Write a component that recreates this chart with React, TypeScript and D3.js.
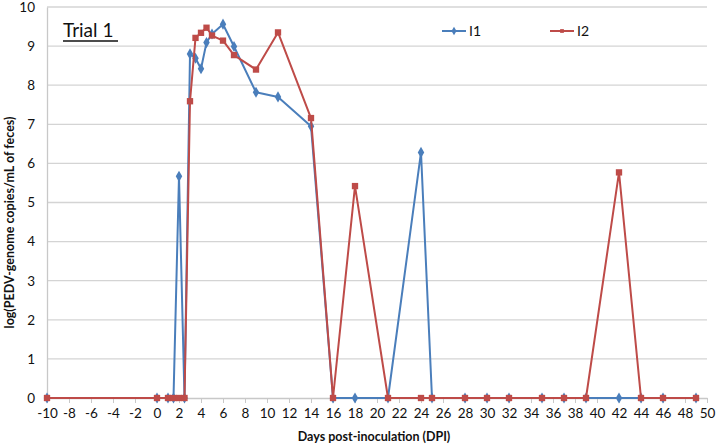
import { useEffect, useRef } from 'react';
import * as d3 from 'd3';

// sampling days (DPI)
const days = [-10, 0, 1, 1.5, 2, 2.5, 3, 3.5, 4, 4.5, 5, 6, 7, 9, 11, 14, 16, 18, 21, 24, 25, 28, 30, 32, 35, 37, 39, 42, 44, 46, 49];

// log copies per sample, same order as days
const i1Values = [0, 0, 0, 0, 5.67, 0, 8.8, 8.69, 8.42, 9.09, 9.31, 9.56, 8.99, 7.82, 7.7, 6.95, 0, 0, 0, 6.28, 0, 0, 0, 0, 0, 0, 0, 0, 0, 0, 0];
const i2Values = [0, 0, 0, 0, 0, 0, 7.59, 9.21, 9.34, 9.47, 9.27, 9.14, 8.77, 8.4, 9.35, 7.16, 0, 5.42, 0, 0, 0, 0, 0, 0, 0, 0, 0, 5.77, 0, 0, 0];

const xTicks = d3.range(-10, 51, 2);
const yTicks = d3.range(0, 11, 1);

const seriesNames = ['I1', 'I2'];
const colors = ['#4a7ebb', '#be4b48'];

export default function App() {
  const ref = useRef(null);

  useEffect(() => {
    const svg = d3.select(ref.current);
    svg.selectAll('*').remove();

    const left = 47, right = 707, top = 7, bottom = 398;

    const x = d3.scaleLinear().domain([-10, 50]).range([left, right]);
    const y = d3.scaleLinear().domain([0, 10]).range([bottom, top]);

    const font = 'Lato, Open Sans, sans-serif';

    // gridlines
    svg.append('g')
      .selectAll('line')
      .data(yTicks.filter(d => d > 0))
      .enter().append('line')
      .attr('x1', left)
      .attr('x2', right)
      .attr('y1', d => y(d))
      .attr('y2', d => y(d))
      .attr('stroke', '#d4d4d4')
      .attr('stroke-width', 1.3);

    // y axis
    const yAxis = svg.append('g')
      .attr('transform', `translate(${left},0)`)
      .call(d3.axisLeft(y).tickValues(yTicks).tickSize(0).tickPadding(12).tickFormat(d => String(d)));
    yAxis.select('.domain').attr('stroke', '#c8c8c8').attr('stroke-width', 1.3);
    yAxis.selectAll('text')
      .attr('font-family', font)
      .attr('font-size', 13.5)
      .attr('fill', '#111');

    // x axis
    const xAxis = svg.append('g')
      .attr('transform', `translate(0,${bottom})`)
      .call(d3.axisBottom(x).tickValues(xTicks).tickSize(5).tickPadding(5).tickSizeOuter(0).tickFormat(d => String(d)));
    xAxis.select('.domain').attr('stroke', '#c8c8c8').attr('stroke-width', 1.3);
    xAxis.selectAll('line').attr('stroke', '#c8c8c8');
    xAxis.selectAll('text')
      .attr('font-family', font)
      .attr('font-size', 13.5)
      .attr('fill', '#111');

    // axis titles
    svg.append('text')
      .attr('x', 374)
      .attr('y', 441)
      .attr('text-anchor', 'middle')
      .attr('font-family', font)
      .attr('font-weight', 'bold')
      .attr('font-size', 12.5)
      .attr('fill', '#111')
      .text('Days post-inoculation (DPI)');

    svg.append('text')
      .attr('transform', `translate(14,${(top + bottom) / 2 + 20}) rotate(-90)`)
      .attr('text-anchor', 'middle')
      .attr('font-family', font)
      .attr('font-weight', 'bold')
      .attr('font-size', 12.5)
      .attr('fill', '#111')
      .text('log(PEDV-genome copies/mL of feces)');

    // trial label
    svg.append('text')
      .attr('x', 63)
      .attr('y', 37)
      .attr('font-family', font)
      .attr('font-size', 19)
      .attr('fill', '#111')
      .text('Trial 1');
    svg.append('line')
      .attr('x1', 63)
      .attr('x2', 118)
      .attr('y1', 41)
      .attr('y2', 41)
      .attr('stroke', '#111')
      .attr('stroke-width', 1.5);

    const diamond = d3.symbol().type(d3.symbolDiamond).size(36);
    const square = d3.symbol().type(d3.symbolSquare).size(40);

    // series, I1 first so I2 sits on top
    [i1Values, i2Values].forEach((vals, s) => {
      const pts = days.map((d, i) => ({ d, v: vals[i] }));
      const line = d3.line()
        .x(p => x(p.d))
        .y(p => y(p.v));

      svg.append('path')
        .datum(pts)
        .attr('fill', 'none')
        .attr('stroke', colors[s])
        .attr('stroke-width', 2)
        .attr('stroke-linejoin', 'round')
        .attr('d', line);

      svg.append('g')
        .selectAll('path')
        .data(pts)
        .enter().append('path')
        .attr('transform', p => `translate(${x(p.d)},${y(p.v)})`)
        .attr('d', s === 0 ? diamond() : square())
        .attr('fill', colors[s]);
    });

    // legend
    const legend = svg.append('g')
      .selectAll('g')
      .data(seriesNames)
      .enter().append('g')
      .attr('transform', (d, i) => `translate(${442 + i * 108},31)`);

    legend.append('line')
      .attr('x1', 0)
      .attr('x2', 24)
      .attr('stroke', (d, i) => colors[i])
      .attr('stroke-width', 2);

    legend.append('path')
      .attr('transform', 'translate(12,0)')
      .attr('d', (d, i) => i === 0 ? d3.symbol().type(d3.symbolDiamond).size(22)() : d3.symbol().type(d3.symbolSquare).size(14)())
      .attr('fill', (d, i) => colors[i]);

    legend.append('text')
      .attr('x', 27)
      .attr('y', 5)
      .attr('font-family', font)
      .attr('font-size', 14)
      .attr('fill', '#111')
      .text(d => d);
  }, []);

  return (
    <svg
      ref={ref}
      width={716}
      height={447}
      style={{ position: 'absolute', left: 0, top: 0, background: '#fff' }}
    />
  );
}
